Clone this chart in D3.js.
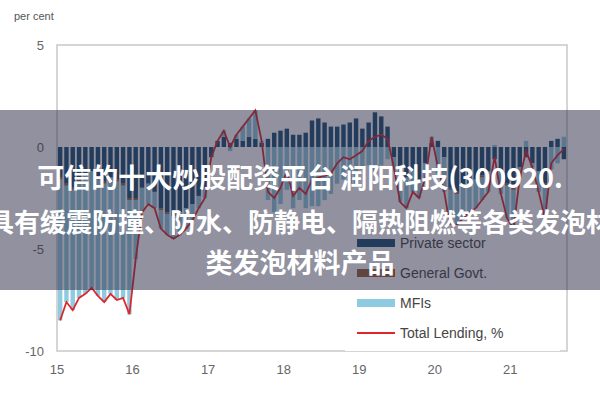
<!DOCTYPE html>
<html><head><meta charset="utf-8">
<script src="https://cdn.jsdelivr.net/npm/d3@7"></script>
<style>body{margin:0;background:#fff}</style>
</head><body>
<div id="chart"></div>
<script>
// monthly, 2015-01 .. 2021-09
var total = [-8.5,-7.6,-8.0,-7.4,-7.2,-6.9,-7.3,-7.6,-7.2,-7.5,-7.4,-8.2,
  -5.5,-3.2,-2.8,-3.0,-4.0,-4.3,-4.5,-4.3,-4.0,-3.6,-3.0,-2.5,
  -0.5,0.3,0.8,0.0,0.6,1.0,1.4,1.8,0.3,-2.2,-2.5,-2.0,
  -1.2,-2.4,-2.0,-2.3,-1.6,-1.5,-1.4,-1.3,-0.8,-0.5,-0.6,-0.4,
  -0.2,0.3,0.5,0.6,0.4,-1.0,-2.7,-3.0,-2.2,-2.5,-1.5,0.5,
  -1.0,-2.2,-4.0,-3.8,-3.5,-3.2,-3.0,-2.6,-2.2,-0.5,-2.3,-3.5,
  -4.0,-1.5,-0.2,-1.0,-2.2,-3.5,-0.8,-0.4,-0.1];
var privateSector = [-1.5,-1.8,-2.0,-1.6,-1.4,-1.2,-1.5,-1.7,-1.5,-1.6,-1.8,-2.5,
  -2.5,-2.0,-1.8,-2.2,-3.0,-3.2,-3.4,-3.2,-3.0,-2.8,-2.4,-2.0,
  -0.5,0.3,0.5,0.2,0.4,0.3,0.5,0.4,0.2,0.4,0.7,0.8,
  0.9,0.6,0.6,0.7,1.3,1.4,1.2,1.0,1.0,1.1,1.2,1.4,
  0.9,1.2,1.7,1.5,1.0,-0.5,-1.0,-1.5,-1.2,-1.6,-0.8,0.2,
  0.3,-0.5,-2.0,-2.2,-2.0,-1.8,-1.6,-1.4,-1.2,-0.6,-1.2,-1.8,
  -2.0,-1.0,-0.5,-0.8,-1.2,-1.8,0.3,0.4,-0.6];
var govt = [-0.1,-0.1,-0.1,-0.1,0,0,-0.1,-0.1,0,-0.1,-0.1,-0.1,
  -0.1,0,0,0,-0.1,-0.1,0,0,0,0,0,0,
  0,0,0,0,0,0,0,0,0,0,0,0,
  0,0,0,0,0,0,0,0,0,0,0,0,
  0,0,0,0,0,0,0,0,0,0,0,0,
  0,0,-0.1,-0.1,0,0,0,-0.1,0,0,0,-0.1,
  -0.1,0,0,0,0,-0.1,0,0,0];
var mfis = [-6.9,-5.7,-5.9,-5.7,-5.8,-5.7,-5.7,-5.8,-5.7,-5.8,-5.5,-5.6,
  -2.9,-1.2,-1.0,-0.8,-0.9,-1.0,-1.1,-1.1,-1.0,-0.8,-0.6,-0.5,
  0.0,0.0,0.3,-0.2,0.2,0.7,0.9,1.4,0.1,-2.6,-3.2,-2.8,
  -2.1,-3.0,-2.6,-3.0,-2.9,-2.9,-2.6,-2.3,-1.8,-1.6,-1.8,-1.8,
  -1.1,-0.9,-1.2,-0.9,-0.6,-0.5,-1.7,-1.5,-1.0,-0.9,-0.7,0.3,
  -1.3,-1.7,-1.9,-1.5,-1.5,-1.4,-1.4,-1.1,-1.0,0.1,-1.1,-1.6,
  -1.9,-0.5,0.3,-0.2,-1.0,-1.6,-1.1,-0.8,0.5];
var yearLabels = ["15","16","17","18","19","20","21"];
var yTicks = [5, 0, -5, -10];
var seriesNames = ["Private sector", "General Govt.", "MFIs", "Total Lending, %"];
var seriesColors = ["#1d4f73", "#a0603a", "#8fcbe0", "#e0262b"];

var W = 600, H = 400;
var svg = d3.select("#chart").append("svg").attr("width", W).attr("height", H)
  .style("font-family", "Liberation Sans, Arial, sans-serif");

var months = d3.range(total.length);
var x = d3.scaleLinear().domain([0, 81]).range([57, 567]);
var y = d3.scaleLinear().domain([-10, 5]).range([351, 45]);
var bw = (x(1) - x(0)) * 0.7;

// plot frame
svg.append("rect").attr("x", 57).attr("y", 45).attr("width", 510).attr("height", 306)
  .attr("fill", "none").attr("stroke", "#c8c8c8").attr("stroke-width", 1.5);

svg.append("text").attr("x", 14).attr("y", 20).attr("font-size", 11).attr("fill", "#555").text("per cent");

svg.selectAll(".yt").data(yTicks).enter().append("text")
  .attr("x", 44).attr("y", function(d) { return y(d) + 5; })
  .attr("text-anchor", "end").attr("font-size", 13).attr("fill", "#666")
  .text(function(d) { return d; });

svg.selectAll(".xt").data(yearLabels).enter().append("text")
  .attr("x", function(d, i) { return x(i * 12); }).attr("y", 374)
  .attr("text-anchor", "middle").attr("font-size", 13).attr("fill", "#666")
  .text(function(d) { return d; });

// stacked bars: positives stack up, negatives stack down
var layers = [privateSector, govt, mfis];
months.forEach(function(m) {
  var pos = 0, neg = 0;
  layers.forEach(function(arr, k) {
    var v = arr[m], y0, y1;
    if (v >= 0) { y0 = pos; pos += v; y1 = pos; } else { y0 = neg; neg += v; y1 = neg; }
    svg.append("rect")
      .attr("x", x(m + 0.15)).attr("width", bw)
      .attr("y", y(Math.max(y0, y1))).attr("height", Math.abs(y(y0) - y(y1)))
      .attr("fill", seriesColors[k]);
  });
});

var line = d3.line().x(function(d, i) { return x(i + 0.5); }).y(function(d) { return y(d); });
svg.append("path").datum(total).attr("d", line)
  .attr("fill", "none").attr("stroke", seriesColors[3]).attr("stroke-width", 1.8);

// legend
var lg = svg.append("g");
lg.append("rect").attr("x", 345).attr("y", 225).attr("width", 215).attr("height", 126).attr("fill", "#fff");
seriesNames.forEach(function(n, i) {
  var yy = 243 + i * 30;
  if (i < 3) lg.append("rect").attr("x", 357).attr("y", yy - 4).attr("width", 38).attr("height", 8).attr("fill", seriesColors[i]);
  else lg.append("line").attr("x1", 357).attr("x2", 395).attr("y1", yy).attr("y2", yy).attr("stroke", seriesColors[i]).attr("stroke-width", 2);
  lg.append("text").attr("x", 400).attr("y", yy + 5).attr("font-size", 14).attr("fill", "#444").text(n);
});

// caption overlay
svg.append("rect").attr("x", 0).attr("y", 110).attr("width", W).attr("height", 180)
  .attr("fill", "rgb(45,45,70)").attr("opacity", 0.52);
var cap = ["可信的十大炒股配资平台 润阳科技(300920.", "具有缓震防撞、防水、防静电、隔热阻燃等各类发泡材", "类发泡材料产品"];
var capX = [300, 300, 300];
var capY = [188, 232, 273];
var capSize = [27, 26, 27];
cap.forEach(function(t, i) {
  svg.append("text").attr("x", capX[i]).attr("y", capY[i]).attr("text-anchor", "middle")
    .attr("font-family", "Noto Sans CJK SC").attr("font-weight", "bold").attr("font-size", capSize[i])
    .attr("fill", "#fff").text(t);
});
</script>
</body></html>
